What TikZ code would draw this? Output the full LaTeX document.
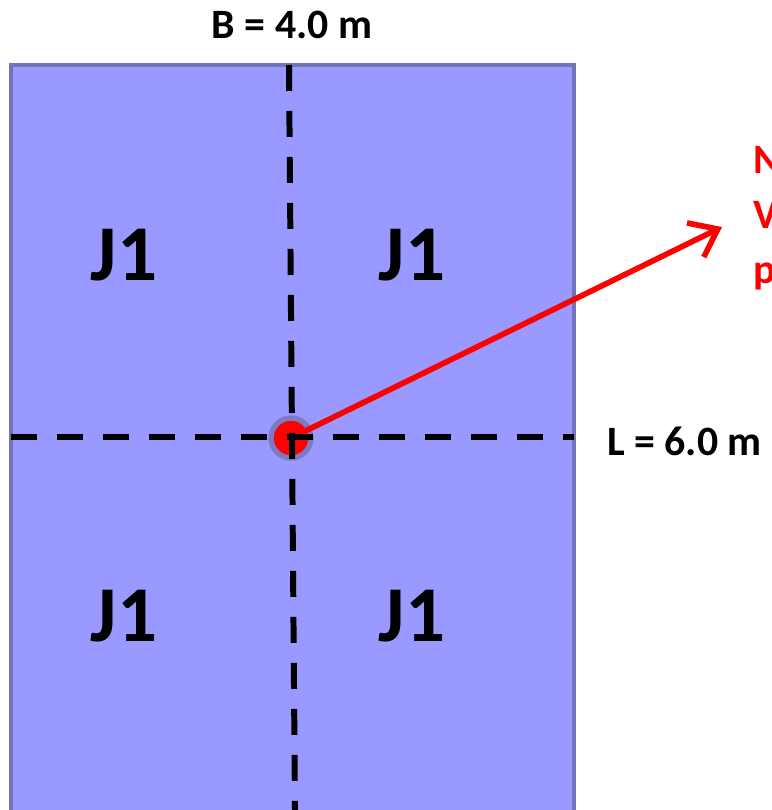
\documentclass[tikz,border=0pt]{standalone}
\usepackage{fontspec}
\setmainfont{Carlito}
\usepackage{xcolor}
\usetikzlibrary{arrows.meta}
\definecolor{slab}{HTML}{9999FF}
\definecolor{slabedge}{HTML}{7373B9}
\definecolor{colring}{HTML}{7B7BC4}

\begin{document}
\begin{tikzpicture}[
  x=0.02cm, y=-0.02cm,
  dimlbl/.style={font=\bfseries\fontsize{23.8}{31.2}\selectfont, inner sep=0pt},
  panel/.style={font=\bfseries\fontsize{45}{54}\selectfont, inner sep=0pt, anchor=base},
  axisline/.style={line width=3.4pt, dash pattern=on 0.52cm off 0.4cm},
  load/.style={red, line width=3.2pt, -{Straight Barb[length=5mm,width=7.6mm]}},
  column/.style={circle, fill=red, draw=colring, line width=3pt, minimum size=0.8cm, inner sep=0pt},
]
\useasboundingbox (0,0) rectangle (771,810);
\clip (0,0) rectangle (771,810);

% Slab outline (runs past the bottom edge)
\draw[fill=slab, draw=slabedge, line width=2.6pt] (11,65) rectangle (574,840);

% Panel labels
\node[panel] (pnw) at (124,281) {J1};
\node[panel] (pne) at (412,281) {J1};
\node[panel] (psw) at (124,641) {J1};
\node[panel] (pse) at (412,641) {J1};

% Column and resultant arrow
\node[column] (col) at (291,438) {};
\coordinate (tip) at (722,227);
\draw[load] (col.center) -- (tip);

% Axes through the column
\coordinate (axtop) at (289,65);
\coordinate (axbot) at (295,812);
\coordinate (axwest) at (11,437);
\coordinate (axeast) at (574,437);
\draw[axisline] (axtop) -- (axbot);
\draw[axisline] (axwest) -- (axeast);

% Dimensions
\node[dimlbl, anchor=base] (bdim) at (292,39) {B = 4.0 m};
\node[dimlbl, anchor=base west] (ldim) at (607,455) {L = 6.0 m};

% Note at the arrow head (cut by the edge)
\node[dimlbl, red, anchor=north west, align=left] (note) at (753,146) {N\\V\\p};
\end{tikzpicture}
\end{document}
